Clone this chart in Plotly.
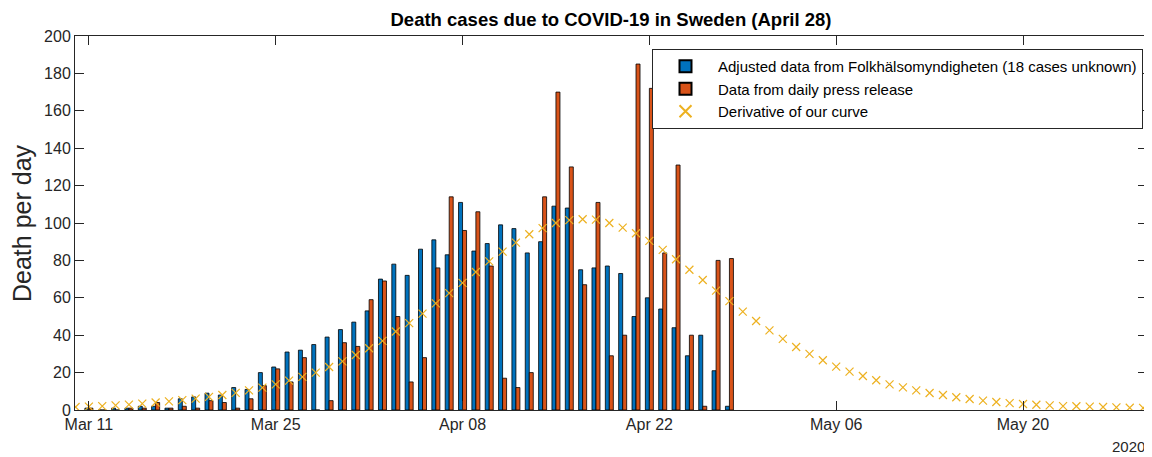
import pandas as pd
import plotly.graph_objects as go

# ---- data ----
bar_start = "2020-03-11"
fhm_mar = [1, 0, 1, 1, 2, 2, 1, 6, 7, 9, 8, 12, 11, 20, 23, 31, 32, 35, 39, 43, 47]
fhm_apr = [53, 70, 78, 72, 86, 91, 83, 111, 85, 89, 99, 97, 84, 90, 109, 108, 75, 76, 77, 73,
           50, 60, 54, 44, 29, 40, 21, 2]
press_mar = [1, 0, 0, 1, 1, 4, 1, 2, 1, 5, 4, 1, 6, 13, 22, 15, 28, 0, 5, 36, 34]
press_apr = [59, 69, 50, 15, 28, 76, 114, 96, 106, 77, 17, 12, 20, 114, 170, 130, 67, 111, 29, 40,
             185, 172, 84, 131, 40, 2, 80, 81]

curve_start = "2020-03-10"
deriv_mar = [1.6, 1.8, 2.1, 2.5, 2.9, 3.4, 4.0, 4.6, 5.3, 6.1, 7.0, 8.0, 9.2, 10.5, 12.0, 13.7,
             15.7, 17.7, 20.0, 23.0, 26.0, 29.4]
deriv_apr = [33, 37, 42, 46.5, 51.5, 57, 62.5, 68, 73.8, 79.5, 84.7, 89.5, 94, 97.3, 100, 101.5,
             102, 101.8, 100, 97.5, 94.5, 90.4, 85.6, 80.6, 75, 69.5, 63.8, 58.2, 52.6, 47.6]
deriv_may = [42.6, 38, 33.7, 30, 26.6, 23.2, 20.5, 18.2, 15.9, 13.7, 12.1, 10.5, 9.1, 8.0, 6.8,
             5.9, 5.0, 4.3, 3.7, 3.2, 2.8, 2.5, 2.1, 2.0, 1.8, 1.6, 1.4, 1.2, 1.1]

tick_dates = ["2020-03-11", "2020-03-25", "2020-04-08", "2020-04-22", "2020-05-06", "2020-05-20"]
tick_labels = ["Mar 11", "Mar 25", "Apr 08", "Apr 22", "May 06", "May 20"]
y_ticks = [0, 20, 40, 60, 80, 100, 120, 140, 160, 180, 200]

fhm = fhm_mar + fhm_apr
press = press_mar + press_apr
deriv = deriv_mar + deriv_apr + deriv_may
bar_dates = pd.date_range(bar_start, periods=len(fhm), freq="D")
curve_dates = pd.date_range(curve_start, periods=len(deriv), freq="D")

BLUE = "#0072BD"
ORANGE = "#D95319"
YELLOW = "#EDB120"
AX = "#262626"
FONT = "Liberation Sans, Arial, sans-serif"

# the page body adds an 8px offset; size the figure so it fills the window exactly
OFF = 8
W, H = 1152 - OFF, 457 - OFF
L, R, T, B = 75 - OFF, 5, 36 - OFF, 47
PLOT_W = W - L - R
PLOT_H = H - T - B

fig = go.Figure()
fig.add_trace(go.Bar(x=bar_dates, y=fhm, name="Adjusted data from Folkhälsomyndigheten (18 cases unknown)",
                     marker=dict(color=BLUE, line=dict(color="#000000", width=0.8))))
fig.add_trace(go.Bar(x=bar_dates, y=press, name="Data from daily press release",
                     marker=dict(color=ORANGE, line=dict(color="#000000", width=0.8))))
fig.add_trace(go.Scatter(x=curve_dates, y=deriv, mode="markers", name="Derivative of our curve",
                         marker=dict(symbol="x-thin", size=8, color=YELLOW,
                                     line=dict(color=YELLOW, width=1.2))))

fig.update_layout(
    width=W, height=H,
    margin=dict(l=L, r=R, t=T, b=B, autoexpand=False),
    paper_bgcolor="white", plot_bgcolor="white",
    barmode="group", bargap=0.4, bargroupgap=0.0,
    font=dict(family=FONT, size=16, color=AX),
    title=dict(text="<b>Death cases due to COVID-19 in Sweden (April 28)</b>",
               x=0.5, xanchor="center", xref="paper", y=1 - (20 - OFF) / H, yanchor="middle",
               font=dict(size=18.5, color="#000000")),
    showlegend=True,
    legend=dict(x=(1143 - 75) / PLOT_W, xanchor="right", y=1 - (49 - 36) / PLOT_H, yanchor="top",
                bgcolor="white", bordercolor=AX, borderwidth=1,
                font=dict(size=15, color="#000000"), tracegroupgap=0,
                itemsizing="constant", itemwidth=55),
    xaxis=dict(
        range=[pd.Timestamp("2020-03-10") - pd.Timedelta(hours=1),
               pd.Timestamp("2020-05-29") + pd.Timedelta(hours=7)],
        tickvals=pd.to_datetime(tick_dates), ticktext=tick_labels,
        ticks="inside", ticklen=9, tickcolor=AX, tickwidth=1,
        showline=True, linecolor=AX, linewidth=1, mirror="ticks",
        showgrid=False, zeroline=False, tickfont=dict(size=16, color=AX),
        automargin=False,
    ),
    yaxis=dict(
        range=[0, 200], tickvals=y_ticks,
        ticks="inside", ticklen=9, tickcolor=AX, tickwidth=1,
        showline=True, linecolor=AX, linewidth=1, mirror="ticks",
        showgrid=False, zeroline=False, tickfont=dict(size=16, color=AX),
        automargin=False,
    ),
    annotations=[
        dict(text="2020", x=1.0, xref="paper", xanchor="right",
             y=-(446 - 410) / PLOT_H, yref="paper", yanchor="middle", showarrow=False,
             font=dict(size=15, color=AX)),
        dict(text="Death per day", textangle=-90, x=(22 - 75) / PLOT_W, xref="paper",
             y=0.5, yref="paper", xanchor="center", yanchor="middle", showarrow=False,
             font=dict(size=25, color=AX)),
    ],
)

fig.write_html("out.html")
